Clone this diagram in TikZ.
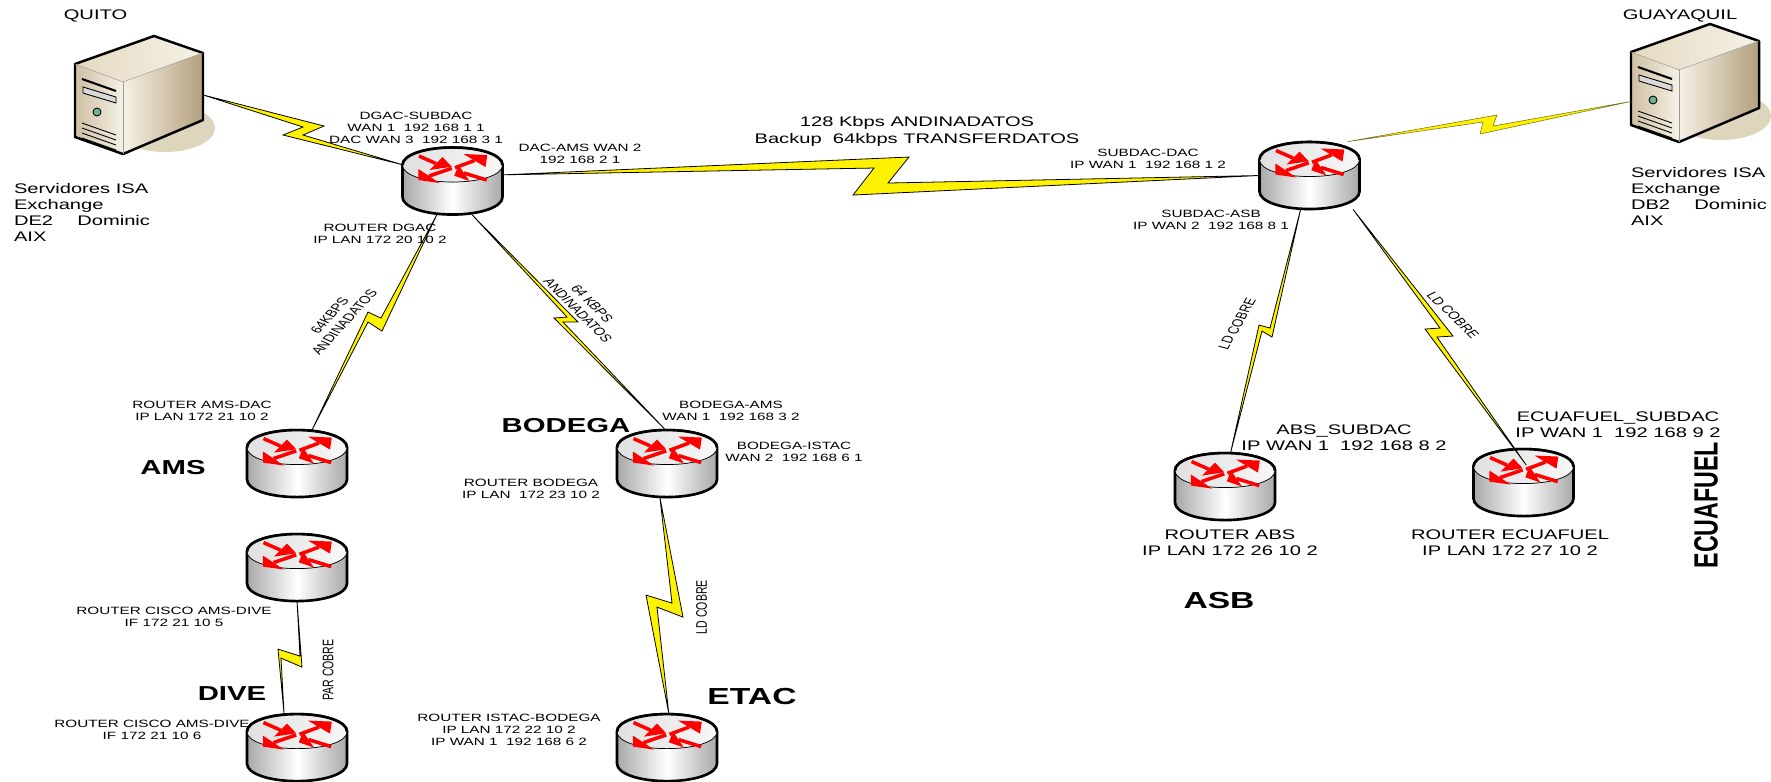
\documentclass[tikz,border=0pt]{standalone}
\usepackage{fontspec}
\setmainfont{Liberation Sans}
\definecolor{shellhi}{HTML}{F6F1E6}
\definecolor{shelllo}{HTML}{B3A07C}
\definecolor{shellmid}{HTML}{E4DAC2}
\definecolor{shadowc}{HTML}{DDD5BC}
\definecolor{ledc}{HTML}{72B09A}
\definecolor{drumc}{HTML}{A8A8A8}
\tikzset{
  routerbox/.style={inner sep=0pt, minimum width=2cm, minimum height=1.34cm},
  serverbox/.style={inner sep=0pt, minimum width=2.56cm, minimum height=2.36cm},
  flow/.style={red, line width=2pt},
  bolt/.style={fill=yellow, draw=black, line width=0.45pt, line join=miter},
  softbolt/.style={fill=yellow, draw=olive!75!black, line width=0.3pt},
  lbl/.style={transform shape, inner sep=0pt, align=center, font=\fontsize{6}{6.85}\selectfont},
  midlbl/.style={lbl, font=\fontsize{7.9}{9.1}\selectfont},
  sitelbl/.style={lbl, font=\fontsize{11.5}{13}\selectfont\bfseries},
  largelbl/.style={lbl, font=\fontsize{13.2}{15}\selectfont\bfseries},
}
\newcommand{\routerart}{%
  \draw[line width=1.5pt, left color=drumc, right color=drumc, middle color=white]
    (-50,-16) -- (-50,16) .. controls (-50,26) and (-28,33.5) .. (0,33.5)
    .. controls (28,33.5) and (50,26) .. (50,16) -- (50,-16)
    .. controls (50,-26) and (28,-33.5) .. (0,-33.5)
    .. controls (-28,-33.5) and (-50,-26) .. (-50,-16) -- cycle;
  \fill[left color=black!12, right color=black!3]
    (-50,-16) .. controls (-50,-6) and (-28,1) .. (0,1)
    .. controls (28,1) and (50,-6) .. (50,-16)
    .. controls (50,-26) and (28,-33.5) .. (0,-33.5)
    .. controls (-28,-33.5) and (-50,-26) .. (-50,-16) -- cycle;
  \draw[line width=0.4pt] (-50,-16) .. controls (-50,-6) and (-28,1) .. (0,1)
    .. controls (28,1) and (50,-6) .. (50,-16);
  \draw[line width=1.5pt] (-50,-16) .. controls (-50,-26) and (-28,-33.5) .. (0,-33.5)
    .. controls (28,-33.5) and (50,-26) .. (50,-16);
  % tail, tip, two barbs of each arrow
  \foreach \tx/\ty/\px/\py/\ax/\ay/\bx/\by in {-33.5/-25/-0.8/-14.3/-10/-24/-23/-11,
      2.5/-13.3/34.8/-26/11/-27/33/-14,
      -0.8/-12.7/-34.2/-1/-34/-12/-13/2,
      34.2/-1/1.8/-5.3/6/-16/17/0} {
    \draw[flow] (\tx,\ty) -- ({(\ax+\bx)/2},{(\ay+\by)/2});
    \fill[red] (\px,\py) -- (\ax,\ay) -- (\bx,\by) -- cycle;
  }
}
\newcommand{\serverart}{%
  \fill[shadowc] (26,33) ellipse [x radius=50, y radius=24];
  \fill[left color=shellmid, right color=shellhi]
    (-64,-31) -- (15,-59) -- (64,-42) -- (-16,-13) -- cycle;
  \fill[left color=shellhi, right color=shelllo]
    (-16,-13) -- (64,-42) -- (64,25) -- (-16,59) -- cycle;
  \fill[left color=shelllo!45!shellmid, right color=shellhi]
    (-64,-31) -- (-16,-13) -- (-16,59) -- (-64,42) -- cycle;
  \draw[line width=1.4pt, line join=round]
    (-64,-31) -- (15,-59) -- (64,-42) -- (64,25) -- (-16,59) -- (-64,42) -- cycle;
  \draw[line width=0.3pt, black!40] (-16,-13) -- (-16,59);
  \draw[line width=0.3pt, black!30] (-64,-31) -- (-16,-13) -- (64,-42);
  \draw[line width=1.2pt] (-57,-16) -- (-23,-4);
  \draw[line width=0.5pt, fill=white!85!black] (-56,-8) -- (-23,2) -- (-23,8) -- (-56,-2) -- cycle;
  \draw[line width=0.5pt, fill=ledc] (-42,17) circle [radius=4];
  \foreach \k in {0,5,10,15} {
    \draw[line width=0.5pt] (-57,28+\k) -- (-23,40+\k);
  }
}
\newcommand{\bolt}[7][bolt]{\draw[#1] (#2) -- (#4) -- (#5) -- (#3) -- (#6) -- (#7) -- cycle;}
\begin{document}
\begin{tikzpicture}[x=0.013793cm, y=-0.02cm, xscale=1.45]
  \useasboundingbox (0,0) rectangle (1771,781);
  % servers
  \foreach \n/\cx/\cy in {quito/139/95, gye/1695/83} {
    \node[serverbox] (\n) at (\cx,\cy) {};
    \begin{scope}[shift={(\cx,\cy)}] \serverart \end{scope}
  }
  % routers
  \foreach \n/\cx/\cy in {dgac/452.5/181, subdac/1309.5/175.5, ams/297/463.5, amsdive/297/567.5,
      dive/297/747.5, bodega/667/463.5, etac/667/747.5, abs/1225/486.5, ecuafuel/1523.5/482.5} {
    \node[routerbox] (\n) at (\cx,\cy) {};
    \begin{scope}[shift={(\cx,\cy)}] \routerart \end{scope}
  }
  \coordinate (ecuatip) at (1526,465);
  % links
  \bolt{quito.east}{dgac.162}{324,126}{303,135}{283,135}{303,127}
  \bolt{dgac.7}{subdac.west}{909,157}{888,183}{853,195}{874,168}
  \bolt[softbolt]{subdac.42}{gye.196.5}{1497,115}{1493,126}{1480,134}{1483,122}
  \bolt{dgac.245}{ams.66}{382,331}{368,322}{368,312}{381,318}
  \bolt{dgac.300}{bodega.93}{578,322}{563,322}{554,318}{567,317}
  \bolt{bodega.258}{etac.87}{683,617}{657,607}{646,595}{672,603}
  \bolt{amsdive.south}{dive.111}{302,667}{281,658}{278,649}{300,656}
  \bolt{subdac.255}{abs.81}{1272,337}{1262,331}{1259,325}{1270,328}
  \bolt{subdac.322}{ecuatip}{1453,336}{1437,337}{1425,329}{1440,328}
  % texts
  \node[midlbl] (tquito) at (95.5,16) {QUITO};
  \node[midlbl, anchor=west, align=left] (tsrvq) at (13.5,212) {Servidores ISA\\Exchange\\DE2\hspace{1.2em}Dominic\\AIX};
  \node[midlbl] (tgye) at (1680,16) {GUAYAQUIL};
  \node[midlbl, anchor=west, align=left] (tsrvg) at (1630.5,196) {Servidores ISA\\Exchange\\DB2\hspace{1.2em}Dominic\\AIX};
  \node[lbl] (tdgacw) at (416,128) {DGAC-SUBDAC\\WAN 1\ \ 192 168 1 1\\DAC WAN 3\ \ 192 168 3 1};
  \node[lbl] (tdacams) at (580,154) {DAC-AMS WAN 2\\192 168 2 1};
  \node[lbl] (tdgac) at (380,234) {ROUTER DGAC\\IP LAN 172 20 10 2};
  \node[midlbl, font=\fontsize{7.9}{9.7}\selectfont] (tmain) at (917,131.5) {128 Kbps ANDINADATOS\\Backup\ \ 64kbps TRANSFERDATOS};
  \node[lbl] (tsubw) at (1148,159) {SUBDAC-DAC\\IP WAN 1\ \ 192 168 1 2};
  \node[lbl] (tsubasb) at (1211,219.5) {SUBDAC-ASB\\IP WAN 2\ \ 192 168 8 1};
  \node[lbl] (tams) at (202,411) {ROUTER AMS-DAC\\IP LAN 172 21 10 2};
  \node[sitelbl] (sams) at (173,467) {AMS};
  \node[sitelbl] (sbodega) at (566,425) {BODEGA};
  \node[lbl] (tbodams) at (731,411) {BODEGA-AMS\\WAN 1\ \ 192 168 3 2};
  \node[lbl] (tbodist) at (794,451.5) {BODEGA-ISTAC\\WAN 2\ \ 192 168 6 1};
  \node[lbl] (tbod) at (531,489) {ROUTER BODEGA\\IP LAN\ \ 172 23 10 2};
  \node[lbl] (tcisco) at (174,617) {ROUTER CISCO AMS-DIVE\\IF 172 21 10 5};
  \node[lbl, rotate=90] (tpar) at (328,670) {PAR COBRE};
  \node[sitelbl] (sdive) at (232,693) {DIVE};
  \node[lbl] (tciscob) at (152,730) {ROUTER CISCO AMS-DIVE\\IF 172 21 10 6};
  \node[lbl, rotate=90] (tld) at (701.5,607) {LD COBRE};
  \node[largelbl] (setac) at (752,696) {ETAC};
  \node[lbl] (tistac) at (509,730) {ROUTER ISTAC-BODEGA\\IP LAN 172 22 10 2\\IP WAN 1\ \ 192 168 6 2};
  \node[midlbl] (tabssub) at (1344,438) {ABS\_SUBDAC\\IP WAN 1\ \ 192 168 8 2};
  \node[midlbl] (tecusub) at (1618,425) {ECUAFUEL\_SUBDAC\\IP WAN 1\ \ 192 168 9 2};
  \node[midlbl] (tabs) at (1230,543) {ROUTER ABS\\IP LAN 172 26 10 2};
  \node[midlbl] (tecu) at (1510,543) {ROUTER ECUAFUEL\\IP LAN 172 27 10 2};
  \node[largelbl] (sasb) at (1219,600) {ASB};
  \node[largelbl, rotate=90] (secu) at (1706,505) {ECUAFUEL};
  \node[lbl, rotate=57.6] (tamsk) at (337,319) {64KBPS\\ANDINADATOS};
  \node[lbl, rotate=-55.4] (tbodk) at (585,307) {64 KBPS\\ANDINADATOS};
  \node[lbl, rotate=68.4] (tldabs) at (1237,324) {LD COBRE};
  \node[lbl, rotate=-54.4] (tldecu) at (1453,315) {LD COBRE};
\end{tikzpicture}
\end{document}
